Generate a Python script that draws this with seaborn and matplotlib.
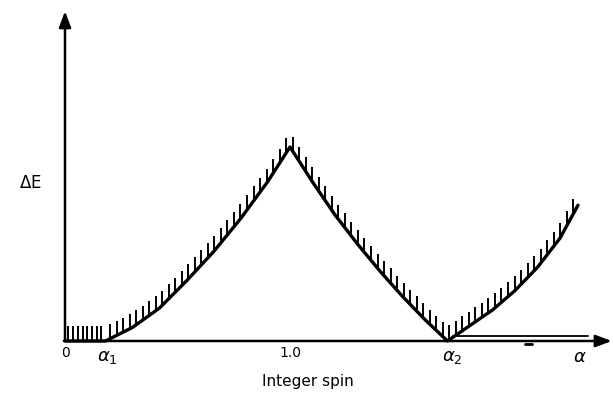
import numpy as np
import matplotlib
matplotlib.use("Agg")
import matplotlib.pyplot as plt
import seaborn as sns

# energy gap curve (x in units of the 1.0 tick, y relative to peak)
curve_x = [0.0, 0.18, 0.30, 0.42, 0.54, 0.66, 0.78, 0.90, 1.00,
           1.10, 1.20, 1.30, 1.40, 1.50, 1.60, 1.70,
           1.80, 1.90, 2.00, 2.10, 2.20, 2.28]
curve_y = [0.0, 0.0, 0.07, 0.17, 0.31, 0.46, 0.63, 0.82, 1.00,
           0.82, 0.65, 0.50, 0.36, 0.23, 0.11, 0.0,
           0.08, 0.16, 0.26, 0.38, 0.53, 0.70]

# thin line just above the axis right of alpha_2
flat_x = [1.724, 2.324]
flat_y = [0.024, 0.024]

tick_pos = [0.0, 0.17, 1.0, 1.70, 2.27]
tick_labels = ["0", r"$\alpha_1$", "1.0", r"$\alpha_2$", r"$\alpha$"]

sns.set_theme(style="white")
plt.rcParams['font.family'] = ['DejaVu Sans']

fig = plt.figure(figsize=(6.13, 4.06), dpi=100)
ax = fig.add_axes([0, 0, 1, 1])
ax.set_xlim(-0.2889, 2.4356)
ax.set_ylim(-0.3299, 1.7629)
ax.axis("off")

sns.lineplot(x=curve_x, y=curve_y, sort=False, estimator=None,
             color="black", linewidth=2.4, ax=ax)
sns.lineplot(x=flat_x, y=flat_y, sort=False, estimator=None,
             color="black", linewidth=1.3, ax=ax)

# hatching on the upper side of the curve
hx_flat = np.arange(0.015, 0.18, 0.021)
hx_curve = np.arange(0.20, 2.285, 0.029)
hx = np.concatenate([hx_flat, hx_curve])
hy = np.interp(hx, curve_x, curve_y)
ax.vlines(hx, hy, hy + 0.075, color="black", linewidth=1.4)

# axes with arrow heads
arrow = dict(arrowstyle="-|>,head_length=0.8,head_width=0.3", color="black",
             lw=1.8, shrinkA=0, shrinkB=0)
ax.annotate("", xy=(0.0, 1.70), xytext=(0.0, 0.0), arrowprops=arrow)
ax.annotate("", xy=(2.43, 0.0), xytext=(-0.005, 0.0), arrowprops=arrow)
ax.plot([2.045, 2.075], [-0.016, -0.016], color="black", lw=2)

for pos, lab in zip(tick_pos, tick_labels):
    is_greek = lab.startswith("$")
    ax.text(pos + (0.02 if is_greek else 0.0), -0.075 if is_greek else -0.055,
            lab, ha="center", va="center", color="black",
            fontsize=13 if is_greek else 10)

ax.text(1.08, -0.205, "Integer spin", ha="center", va="center",
        fontsize=11, color="black")
ax.text(-0.155, 0.82, r"$\Delta$E", ha="center", va="center",
        fontsize=12, color="black")

fig.savefig("out.png", dpi=100)
